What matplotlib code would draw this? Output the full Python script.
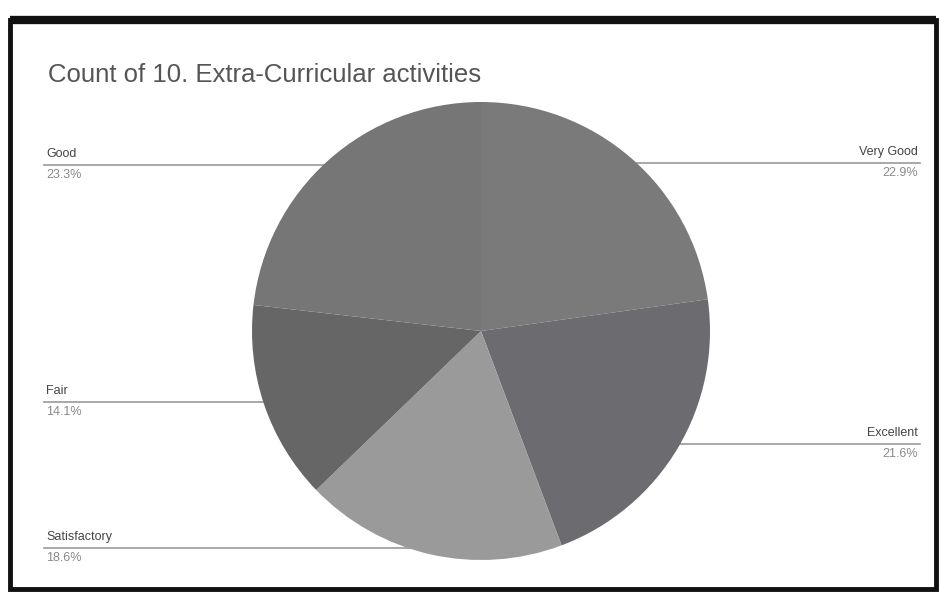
import numpy as np
import matplotlib
matplotlib.use("Agg")
import matplotlib.pyplot as plt
from matplotlib.patches import Rectangle

plt.rcParams["font.family"] = ["Liberation Sans", "DejaVu Sans"]

title = "Count of 10. Extra-Curricular activities"
categories = ["Very Good", "Excellent", "Satisfactory", "Fair", "Good"]
percents = [22.9, 21.6, 18.6, 14.1, 23.3]
colors = ["#7a7a7a", "#6c6c70", "#9a9a9a", "#666666", "#767676"]
label_side = ["right", "right", "left", "left", "left"]

W, H = 941, 593
fig = plt.figure(figsize=(W / 100, H / 100), dpi=100)

# background axes in pixel coords (y down)
bg = fig.add_axes([0, 0, 1, 1])
bg.set_xlim(0, W)
bg.set_ylim(H, 0)
bg.axis("off")
bg.add_patch(Rectangle((10, 20), 926, 569, fill=False, lw=3.5, ec="#111111"))
bg.plot([10, 936], [20, 20], color="#111111", lw=6, solid_capstyle="butt")
bg.text(48, 75, title, fontsize=18.5, color="#555555", va="center", ha="left")

# pie axes
cx, cy, r = 481, 331, 229
pie_ax = fig.add_axes([(cx - r) / W, (H - cy - r) / H, 2 * r / W, 2 * r / H])
wedges, _ = pie_ax.pie(percents, colors=colors, startangle=90, counterclock=False,
                       wedgeprops=dict(linewidth=0))
pie_ax.set_xlim(-1, 1)
pie_ax.set_ylim(-1, 1)
pie_ax.set_aspect("equal")

to_px = pie_ax.transData + bg.transData.inverted()
for w, name, pct, side in zip(wedges, categories, percents, label_side):
    mid = np.deg2rad((w.theta1 + w.theta2) / 2)
    ex, ey = to_px.transform((0.97 * np.cos(mid), 0.97 * np.sin(mid)))
    if side == "left":
        lx, ha = 46, "left"
        bg.plot([44, ex], [ey, ey], color="#9a9a9a", lw=1.2)
    else:
        lx, ha = 918, "right"
        bg.plot([ex, 920], [ey, ey], color="#9a9a9a", lw=1.2)
    bg.text(lx, ey - 5, name, fontsize=9, color="#444444", ha=ha, va="bottom")
    bg.text(lx, ey + 4, "%.1f%%" % pct, fontsize=9, color="#8a8a8a", ha=ha, va="top")

fig.savefig("out.png", dpi=100)
